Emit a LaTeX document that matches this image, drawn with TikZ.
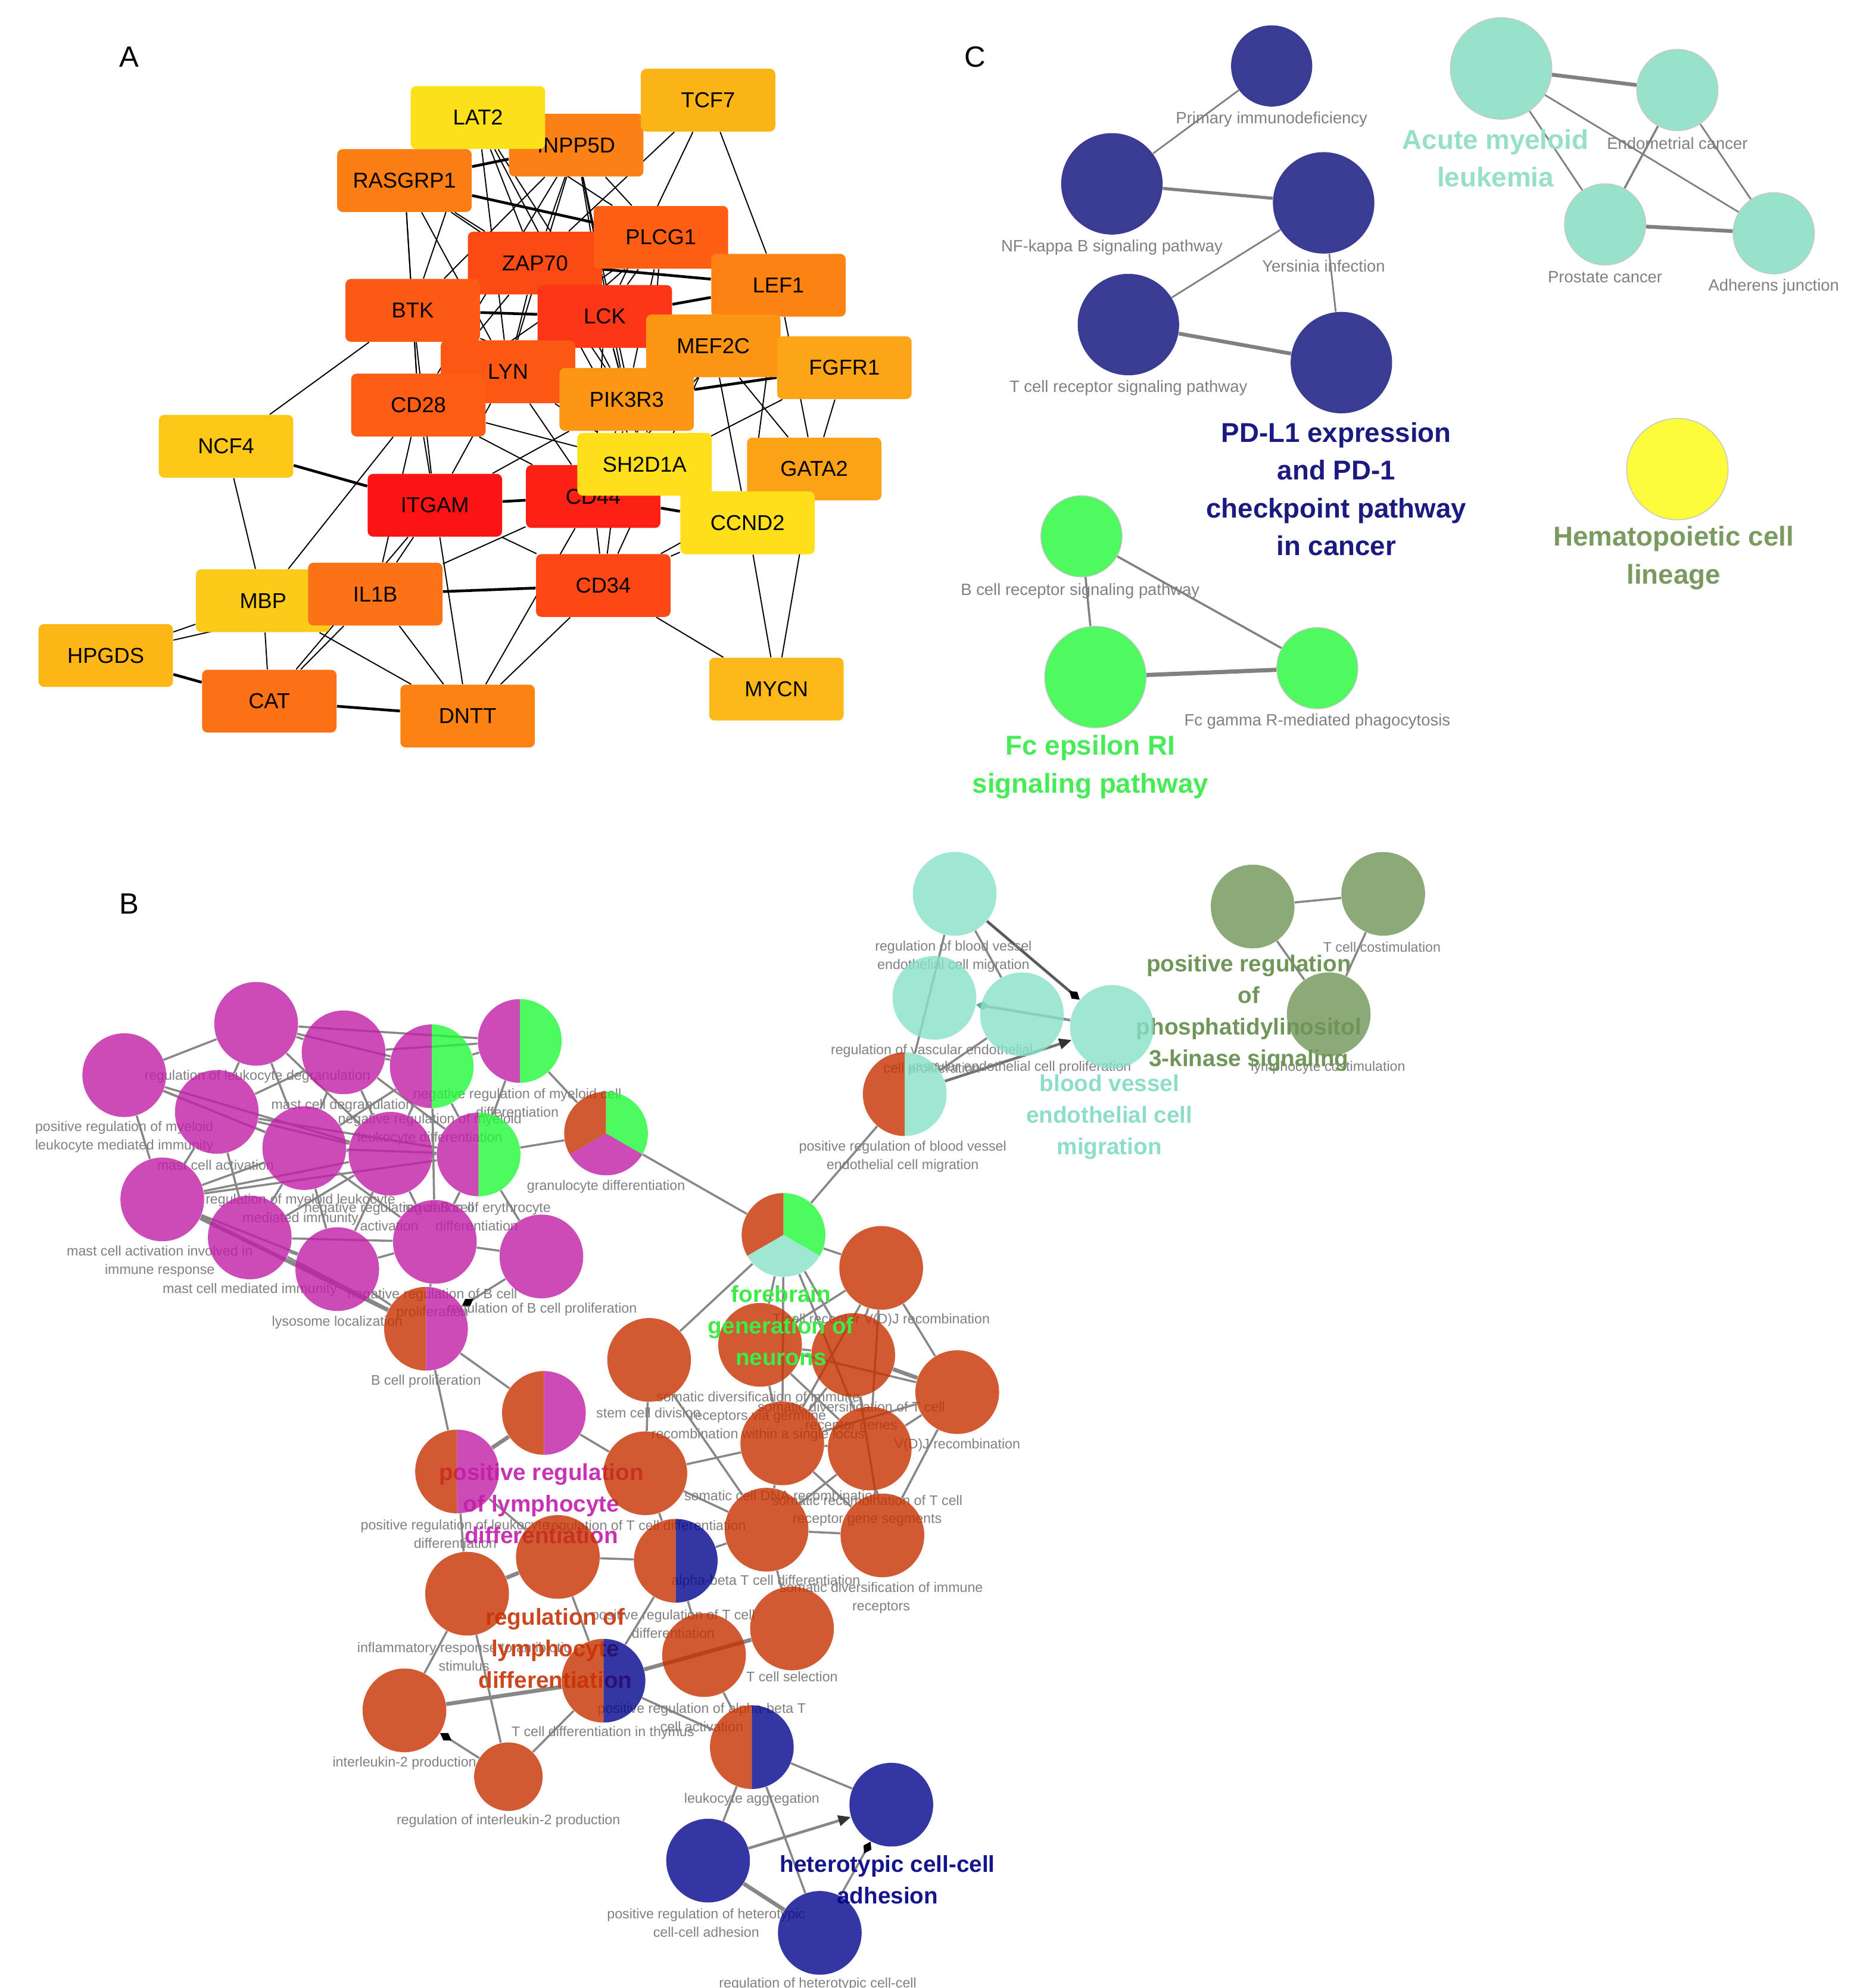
\documentclass[tikz,border=0pt]{standalone}
\usepackage{fontspec}
\setmainfont{Liberation Sans}
\usetikzlibrary{arrows.meta}
\pgfdeclarelayer{edgelayer}
\pgfdeclarelayer{labellayer}
\pgfdeclarelayer{frontlayer}
\pgfsetlayers{edgelayer,labellayer,main,frontlayer}
% panel A colours
\definecolor{cINPP5D}{HTML}{FB8015}
\definecolor{cLAT2}{HTML}{FCE01A}
\definecolor{cTCF7}{HTML}{FBB416}
\definecolor{cRASGRP1}{HTML}{FB7E15}
\definecolor{cZAP70}{HTML}{FC4A14}
\definecolor{cPLCG1}{HTML}{FC5F14}
\definecolor{cLEF1}{HTML}{FC8214}
\definecolor{cBTK}{HTML}{FC5A14}
\definecolor{cLCK}{HTML}{FC3616}
\definecolor{cMEF2C}{HTML}{FC9514}
\definecolor{cFGFR1}{HTML}{FCA516}
\definecolor{cLYN}{HTML}{FC5814}
\definecolor{cCD28}{HTML}{FC5C14}
\definecolor{cPIK3R3}{HTML}{FC9614}
\definecolor{cNCF4}{HTML}{FCC818}
\definecolor{cCD44}{HTML}{FC2014}
\definecolor{cSH2D1A}{HTML}{FDE01A}
\definecolor{cGATA2}{HTML}{FCA216}
\definecolor{cCCND2}{HTML}{FDE01A}
\definecolor{cITGAM}{HTML}{FC1414}
\definecolor{cCD34}{HTML}{FC4814}
\definecolor{cMBP}{HTML}{FCCA18}
\definecolor{cIL1B}{HTML}{FC7216}
\definecolor{cHPGDS}{HTML}{FCB616}
\definecolor{cCAT}{HTML}{FC7016}
\definecolor{cDNTT}{HTML}{FC8214}
\definecolor{cMYCN}{HTML}{FCB818}
% general
\definecolor{labgray}{RGB}{128,128,128}
\definecolor{edgegray}{RGB}{135,135,135}
% panel B node fills (used with opacity 0.8)
\definecolor{Bor}{RGB}{199,49,0}
\definecolor{Bmag}{RGB}{192,30,166}
\definecolor{Bgrn}{RGB}{33,249,55}
\definecolor{Bblu}{RGB}{1,4,140}
\definecolor{Btel}{RGB}{136,224,201}
\definecolor{Bolv}{RGB}{110,149,86}
% panel C node fills
\definecolor{Cnavy}{RGB}{58,60,148}
\definecolor{Cteal}{RGB}{152,226,204}
\definecolor{Cyel}{RGB}{252,252,60}
\definecolor{Cgrn}{RGB}{78,250,96}
% big label colours
\definecolor{Tteal}{RGB}{150,224,200}
\definecolor{Tnavy}{RGB}{26,26,128}
\definecolor{Tolive}{RGB}{122,154,96}
\definecolor{Tgreen}{RGB}{70,235,85}
\definecolor{Btgreen}{RGB}{60,235,70}
\definecolor{Btmag}{RGB}{200,50,180}
\definecolor{Btor}{RGB}{205,70,30}
\definecolor{Btnavy}{RGB}{20,20,140}
\definecolor{Btteal}{RGB}{140,222,200}
\definecolor{Btolive}{RGB}{112,150,90}
\newcommand{\bRad}{0.7026cm}
\newcommand{\sRad}{0.575cm}
\newcommand{\onepie}[3]{\fill[#2, fill opacity=0.8] (#1.center) circle[radius=#3];}
\newcommand{\halfpie}[4]{%
 \fill[#2, fill opacity=0.8] (#1.center) -- ++(90:#4) arc[start angle=90,end angle=270,radius=#4] -- cycle;%
 \fill[#3, fill opacity=0.8] (#1.center) -- ++(-90:#4) arc[start angle=-90,end angle=90,radius=#4] -- cycle;}
\newcommand{\tripie}[5]{%
 \fill[#2, fill opacity=0.8] (#1.center) -- ++(90:#5) arc[start angle=90,end angle=210,radius=#5] -- cycle;%
 \fill[#3, fill opacity=0.8] (#1.center) -- ++(-30:#5) arc[start angle=-30,end angle=90,radius=#5] -- cycle;%
 \fill[#4, fill opacity=0.8] (#1.center) -- ++(210:#5) arc[start angle=210,end angle=330,radius=#5] -- cycle;}
\tikzset{
 gene/.style={rectangle, rounded corners=2.6pt, minimum width=2.257cm, minimum height=1.054cm, inner sep=0pt, font=\fontsize{10.3}{12}\selectfont, text=black},
 aedge/.style={line width=0.55pt, black},
 aedgeT/.style={line width=1.3pt, black},
 cbig/.style={circle, minimum size=1.703cm, inner sep=0pt},
 csmall/.style={circle, minimum size=1.363cm, inner sep=0pt},
 clab/.style={font=\fontsize{7.8}{9.5}\selectfont, text=labgray, align=center, inner sep=0pt},
 cbiglab/.style={font=\fontsize{13}{18.1}\selectfont\bfseries, align=center, inner sep=0pt},
 cedge/.style={line width=0.8pt, labgray},
 cedgeT/.style={line width=1.8pt, labgray},
 bnode/.style={circle, minimum size=1.405cm, inner sep=0pt},
 bsnode/.style={circle, minimum size=1.15cm, inner sep=0pt},
 blab/.style={font=\fontsize{6.6}{8.8}\selectfont, text=labgray, align=center, inner sep=0pt},
 bbiglab/.style={font=\fontsize{11}{15.1}\selectfont\bfseries, align=center, inner sep=0pt},
 bedge/.style={line width=1.0pt, edgegray},
 bedgeT/.style={line width=1.9pt, edgegray},
 dtip/.style={-{Diamond[length=6.5pt,width=4.2pt,color=black]}},
 ttip/.style={-{Triangle[length=6pt,width=5pt,color=black!80]}},
 panel/.style={font=\fontsize{14}{16}\selectfont, inner sep=0pt}
}
\begin{document}
\begin{tikzpicture}[x=0.02129cm, y=-0.02129cm]
\useasboundingbox (0,0) rectangle (1479.6,1568);
\begin{pgfonlayer}{edgelayer}
\fill[white] (0,0) rectangle (1479.6,1568);
\end{pgfonlayer}

% ---------------- panel letters
\node[panel] (labA) at (102,45) {A};
\node[panel] (labC) at (769,45) {C};
\node[panel] (labB) at (102,713) {B};

% ================= PANEL A =================
\node[gene, fill=cINPP5D] (INPP5D) at (454.5,114.5) {INPP5D};
\node[gene, fill=cLAT2] (LAT2) at (377,92.7) {LAT2};
\node[gene, fill=cTCF7] (TCF7) at (558.5,79) {TCF7};
\node[gene, fill=cRASGRP1] (RASGRP1) at (319,142.4) {RASGRP1};
\node[gene, fill=cZAP70] (ZAP70) at (422,207.5) {ZAP70};
\node[gene, fill=cPLCG1] (PLCG1) at (521.3,187.2) {PLCG1};
\node[gene, fill=cLEF1] (LEF1) at (614,225) {LEF1};
\node[gene, fill=cBTK] (BTK) at (325.5,244.8) {BTK};
\node[gene, fill=cLCK] (LCK) at (477,249.6) {LCK};
\node[gene, fill=cMEF2C] (MEF2C) at (562.6,272.8) {MEF2C};
\node[gene, fill=cFGFR1] (FGFR1) at (666,290) {FGFR1};
\node[gene, fill=cLYN] (LYN) at (400.7,293.2) {LYN};
\node[gene, fill=cCD28] (CD28) at (330,319.5) {CD28};
\node[gene, fill=cPIK3R3] (PIK3R3) at (494.3,315) {PIK3R3};
\node[gene, fill=cNCF4] (NCF4) at (178.3,352) {NCF4};
\node[gene, fill=cCD44] (CD44) at (467.9,391.6) {CD44};
\node[gene, fill=cSH2D1A] (SH2D1A) at (508.4,366.2) {SH2D1A};
\node[gene, fill=cGATA2] (GATA2) at (642.2,369.9) {GATA2};
\node[gene, fill=cCCND2] (CCND2) at (589.6,412.4) {CCND2};
\node[gene, fill=cITGAM] (ITGAM) at (343,398.5) {ITGAM};
\node[gene, fill=cCD34] (CD34) at (475.8,461.8) {CD34};
\node[gene, fill=cMBP] (MBP) at (207.5,473.8) {MBP};
\node[gene, fill=cIL1B] (IL1B) at (296,468.6) {IL1B};
\node[gene, fill=cHPGDS] (HPGDS) at (83.4,517) {HPGDS};
\node[gene, fill=cCAT] (CAT) at (212.4,553) {CAT};
\node[gene, fill=cDNTT] (DNTT) at (368.8,564.8) {DNTT};
\node[gene, fill=cMYCN] (MYCN) at (612.4,543.5) {MYCN};

\begin{pgfonlayer}{edgelayer}
\foreach \a/\b in {LAT2/ZAP70, LAT2/LCK, LAT2/LYN, LAT2/PLCG1, LAT2/BTK, LAT2/PIK3R3,
 INPP5D/ZAP70, INPP5D/LCK, INPP5D/LYN, INPP5D/BTK, INPP5D/PIK3R3, INPP5D/CD28, INPP5D/SH2D1A, INPP5D/PLCG1,
 TCF7/LEF1, TCF7/ZAP70, TCF7/LCK,
 RASGRP1/BTK, RASGRP1/ZAP70, RASGRP1/LCK, RASGRP1/CD28, RASGRP1/LYN,
 PLCG1/ZAP70, PLCG1/LCK, PLCG1/LYN, PLCG1/BTK, PLCG1/PIK3R3, PLCG1/CD28, PLCG1/SH2D1A,
 ZAP70/LCK, ZAP70/LYN, ZAP70/CD28, ZAP70/SH2D1A, ZAP70/PIK3R3, ZAP70/BTK,
 LEF1/MEF2C, LEF1/GATA2, LEF1/CCND2, LEF1/CD44,
 BTK/LYN, BTK/ITGAM, BTK/NCF4, BTK/PIK3R3, BTK/CD28,
 LCK/LYN, LCK/CD28, LCK/PIK3R3, LCK/SH2D1A, LCK/CD44, LCK/MEF2C,
 MEF2C/GATA2, MEF2C/CD34, MEF2C/CCND2,
 FGFR1/CD44, FGFR1/GATA2,
 LYN/ITGAM, LYN/CD28, LYN/PIK3R3, LYN/CD44, LYN/SH2D1A,
 CD28/ITGAM, CD28/SH2D1A, CD28/CD44, CD28/MBP, CD28/IL1B,
 PIK3R3/ITGAM, PIK3R3/CD44, PIK3R3/CD34,
 NCF4/MBP, GATA2/MYCN, GATA2/CD34,
 ITGAM/IL1B, ITGAM/DNTT, ITGAM/CD34, ITGAM/CAT,
 CD44/IL1B, CD44/CD34, CD44/DNTT,
 CCND2/CD34, CCND2/MYCN, CD34/MYCN, CD34/DNTT,
 MBP/HPGDS, IL1B/HPGDS, MBP/CAT, IL1B/CAT, MBP/DNTT, IL1B/DNTT}
 \draw[aedge] (\a) -- (\b);
\foreach \a/\b in {RASGRP1/INPP5D, RASGRP1/PLCG1, ZAP70/LEF1, LCK/LEF1, BTK/LCK, PIK3R3/FGFR1,
 NCF4/ITGAM, ITGAM/CD44, CD44/CCND2, IL1B/CD34, CAT/DNTT, HPGDS/CAT}
 \draw[aedgeT] (\a) -- (\b);
\end{pgfonlayer}

% ================= PANEL C =================
\node[csmall, fill=Cnavy] (cPrim) at (1003,52) {};
\node[cbig, fill=Cnavy] (cNF) at (877,145) {};
\node[cbig, fill=Cnavy] (cYer) at (1044,160) {};
\node[cbig, fill=Cnavy] (cTCR) at (890,256) {};
\node[cbig, fill=Cnavy] (cPDL) at (1058,286) {};
\node[cbig, fill=Cteal, draw=gray!45, line width=0.4pt] (cAML) at (1184,54) {};
\node[csmall, fill=Cteal, draw=gray!45, line width=0.4pt] (cEnd) at (1323,71) {};
\node[csmall, fill=Cteal, draw=gray!45, line width=0.4pt] (cPro) at (1266,177) {};
\node[csmall, fill=Cteal, draw=gray!45, line width=0.4pt] (cAdh) at (1399,184) {};
\node[cbig, fill=Cyel, draw=gray!45, line width=0.4pt] (cHem) at (1323,370) {};
\node[csmall, fill=Cgrn, draw=gray!45, line width=0.4pt] (cBCR) at (853,423) {};
\node[cbig, fill=Cgrn, draw=gray!45, line width=0.4pt] (cFcE) at (864,534) {};
\node[csmall, fill=Cgrn, draw=gray!45, line width=0.4pt] (cFcG) at (1039,527) {};

\begin{pgfonlayer}{edgelayer}
\draw[cedge] (cPrim) -- (cNF);
\draw[cedgeT, line width=1.5pt] (cNF) -- (cYer);
\draw[cedge] (cYer) -- (cTCR);
\draw[cedge] (cYer) -- (cPDL);
\draw[cedgeT] (cTCR) -- (cPDL);
\draw[cedgeT] (cAML) -- (cEnd);
\draw[cedge] (cAML) -- (cPro);
\draw[cedge] (cAML) -- (cAdh);
\draw[cedge, line width=1pt] (cEnd) -- (cPro);
\draw[cedge] (cEnd) -- (cAdh);
\draw[cedgeT] (cPro) -- (cAdh);
\draw[cedge, line width=1pt] (cBCR) -- (cFcE);
\draw[cedge, line width=1pt] (cBCR) -- (cFcG);
\draw[cedgeT, line width=2pt] (cFcE) -- (cFcG);
\end{pgfonlayer}

\begin{pgfonlayer}{labellayer}
\node[clab] (lPrim) at (1003,94) {Primary immunodeficiency};
\node[clab] (lNF) at (877,195) {NF-kappa B signaling pathway};
\node[clab] (lYer) at (1044,210) {Yersinia infection};
\node[clab] (lTCR) at (890,306) {T cell receptor signaling pathway};
\node[clab] (lEnd) at (1323,113) {Endometrial cancer};
\node[clab] (lPro) at (1266,218.5) {Prostate cancer};
\node[clab] (lAdh) at (1399,226) {Adherens junction};
\node[clab] (lBCR) at (852,466) {B cell receptor signaling pathway};
\node[clab] (lFcG) at (1039,569) {Fc gamma R-mediated phagocytosis};
\node[cbiglab, text=Tteal] (gAML) at (1179.5,124.75) {Acute myeloid\\leukemia};
\node[cbiglab, text=Tnavy] (gPDL) at (1054,385.75) {PD-L1 expression\\and PD-1\\checkpoint pathway\\in cancer};
\node[cbiglab, text=Tolive] (gHem) at (1320,440) {Hematopoietic cell\\lineage};
\node[cbiglab, text=Tgreen] (gFcE) at (860,605) {Fc epsilon RI\\signaling pathway};
\end{pgfonlayer}

% ================= PANEL B =================
\path
 node[bnode] (m1) at (98,848) {}
 node[bnode] (m2) at (202,807.5) {}
 node[bnode] (m3) at (271,830) {}
 node[bnode] (m4) at (340.5,841) {}
 node[bnode] (m5) at (410,821) {}
 node[bnode] (m6) at (478,894) {}
 node[bnode] (m7) at (171,877) {}
 node[bnode] (m8) at (240,905.5) {}
 node[bnode] (m9) at (308,910) {}
 node[bnode] (m10) at (377.5,910.5) {}
 node[bnode] (m11) at (128,946) {}
 node[bnode] (m12) at (197,976) {}
 node[bnode] (m13) at (266,1001) {}
 node[bnode] (m14) at (343,979.5) {}
 node[bnode] (m15) at (427,991) {}
 node[bnode] (m16) at (336,1048) {}
 node[bnode] (o17) at (618,974) {}
 node[bnode] (o18) at (695,1000) {}
 node[bnode] (o19) at (512,1072.6) {}
 node[bnode] (o20) at (599.5,1060.7) {}
 node[bnode] (o21) at (673,1068.7) {}
 node[bnode] (o22) at (755,1098) {}
 node[bnode] (o23) at (429,1114.4) {}
 node[bnode] (o24) at (360.5,1160.6) {}
 node[bnode] (o25) at (509,1162) {}
 node[bnode] (o26) at (617,1138.4) {}
 node[bnode] (o27) at (686,1142.5) {}
 node[bnode] (o28) at (604.6,1206.5) {}
 node[bnode] (o29) at (696,1211) {}
 node[bnode] (o30) at (533,1231) {}
 node[bnode] (o31) at (440,1228) {}
 node[bnode] (o32) at (368.4,1257) {}
 node[bnode] (o33) at (624.7,1284.4) {}
 node[bnode] (o34) at (555.3,1305.4) {}
 node[bnode] (o35) at (476,1325.6) {}
 node[bnode] (o36) at (319,1349) {}
 node[bsnode] (o37) at (401,1401.3) {}
 node[bnode] (o38) at (593,1378) {}
 node[bnode] (b39) at (703,1423.4) {}
 node[bnode] (b40) at (558.5,1467.5) {}
 node[bnode] (b41) at (646.6,1524.5) {}
 node[bnode] (t42) at (753,705) {}
 node[bnode] (t43) at (737,787) {}
 node[bnode] (t44) at (806,800) {}
 node[bnode] (t45) at (877,810) {}
 node[bnode] (t46) at (713.6,863) {}
 node[bnode] (g47) at (988,715) {}
 node[bnode] (g48) at (1091,705) {}
 node[bnode] (g49) at (1048,800) {};

\begin{pgfonlayer}{edgelayer}
\foreach \a/\b in {m1/m2, m1/m7, m1/m11, m1/m8, m1/m9, m2/m3, m2/m5, m2/m4, m2/m7, m2/m8, m2/m9,
 m3/m4, m3/m5, m3/m7, m3/m8, m3/m9, m3/m10, m4/m5, m4/m8, m4/m9, m4/m10, m4/m14, m5/m6, m5/m10,
 m6/m10, m6/o17, m7/m8, m7/m9, m7/m11, m7/m12, m7/m10, m8/m9, m8/m10, m8/m11, m8/m12, m8/m13, m8/m14,
 m9/m10, m9/m11, m9/m12, m9/m13, m9/m14, m10/m14, m10/m15, m10/m11, m11/m12, m11/m13, m12/m13,
 m12/m14, m12/m16, m13/m14, m13/m16, m14/m15, m14/m16, m16/o23, m16/o24,
 o23/o25, o24/o31, o24/o32, o17/o18, o17/o19, o17/o20, o17/o21, o17/o26, o17/o27, o17/t46,
 o18/o20, o18/o21, o18/o22, o18/o26, o18/o27, o19/o25, o19/o28, o20/o21, o20/o22, o20/o26, o20/o27,
 o21/o26, o21/o27, o21/o29, o22/o26, o22/o27, o22/o29, o26/o27, o26/o28, o26/o29, o27/o28,
 o25/o26, o25/o28, o25/o30, o28/o29, o28/o30, o28/o33, o30/o31, o30/o35, o30/o34, o31/o35,
 o32/o36, o32/o37, o34/o38, o35/o37, o35/o38, o38/b39, o38/b40, o38/b41,
 t42/t46, t42/t44, t46/t44, g47/g48, g47/g49, g48/g49}
 \draw[bedge] (\a) -- (\b);
\foreach \a/\b in {m11/m16, o23/o24, o21/o22, o27/o29, o31/o32, o35/o33, o35/o36, b40/b41}
 \draw[bedgeT] (\a) -- (\b);
\draw[bedge, dtip] (m15) -- (m16);
\draw[bedge, dtip] (o37) -- (o36);
\draw[bedgeT, line width=1.3pt, ttip] (b40) -- (b39);
\draw[bedge, dtip] (b41) -- (b39);
\draw[bedge, line width=1.3pt, draw=black!65, dtip] (t42) -- (t45);
\draw[bedge, line width=1.3pt, draw=gray!90, -{Diamond[length=6.5pt,width=4.2pt,color={rgb,255:red,90;green,168;blue,148}]}] (t45) -- (t43);
\draw[bedge, line width=1.3pt, draw=black!55, ttip] (t46) -- (t45);
\end{pgfonlayer}

% grey labels of panel B (beneath the translucent nodes)
\begin{pgfonlayer}{labellayer}
\node[blab] (l1) at (98,896.75) {positive regulation of myeloid\\leukocyte mediated immunity};
\node[blab] (l2) at (203,849) {regulation of leukocyte degranulation};
\node[blab] (l3) at (270,872) {mast cell degranulation};
\node[blab] (l4) at (339,890.5) {negative regulation of myeloid\\leukocyte differentiation};
\node[blab] (l5) at (408,870) {negative regulation of myeloid cell\\differentiation};
\node[blab] (l6) at (478,936) {granulocyte differentiation};
\node[blab] (l7) at (170,919) {mast cell activation};
\node[blab] (l8) at (237,954.25) {regulation of myeloid leukocyte\\mediated immunity};
\node[blab] (l9) at (307,959.5) {negative regulation of B cell\\activation};
\node[blab] (l10) at (376,959.5) {regulation of erythrocyte\\differentiation};
\node[blab] (l11) at (126,994.75) {mast cell activation involved in\\immune response};
\node[blab] (l12) at (197,1017) {mast cell mediated immunity};
\node[blab] (l13) at (266,1043) {lysosome localization};
\node[blab] (l14) at (341,1028.5) {negative regulation of B cell\\proliferation};
\node[blab] (l15) at (427.5,1032.5) {regulation of B cell proliferation};
\node[blab] (l16) at (336,1089.5) {B cell proliferation};
\node[blab] (l18) at (695,1041.4) {T cell receptor V(D)J recombination};
\node[blab] (l19) at (511.5,1114.4) {stem cell division};
\node[blab] (l20) at (598,1117.3) {somatic diversification of immune\\receptors via germline\\recombination within a single locus};
\node[blab] (l21) at (671.4,1117.75) {somatic diversification of T cell\\receptor genes};
\node[blab] (l22) at (755,1139.7) {V(D)J recombination};
\node[blab] (l24) at (359,1210) {positive regulation of leukocyte\\differentiation};
\node[blab] (l25) at (509.7,1204) {regulation of T cell differentiation};
\node[blab] (l26) at (617,1179.6) {somatic cell DNA recombination};
\node[blab] (l27) at (684,1191.5) {somatic recombination of T cell\\receptor gene segments};
\node[blab] (l28) at (604,1247.5) {alpha-beta T cell differentiation};
\node[blab] (l29) at (695,1260.2) {somatic diversification of immune\\receptors};
\node[blab] (l30) at (531,1281) {positive regulation of T cell\\differentiation};
\node[blab] (l32) at (366,1306.6) {inflammatory response to antibiotic\\stimulus};
\node[blab] (l33) at (624.7,1322.6) {T cell selection};
\node[blab] (l34) at (553.5,1354.75) {positive regulation of alpha-beta T\\cell activation};
\node[blab] (l35) at (475.5,1366.8) {T cell differentiation in thymus};
\node[blab] (l36) at (319,1390.6) {interleukin-2 production};
\node[blab] (l37) at (401,1436.2) {regulation of interleukin-2 production};
\node[blab] (l38) at (593,1419.4) {leukocyte aggregation};
\node[blab] (l40) at (557,1516.7) {positive regulation of heterotypic\\cell-cell adhesion};
\node[blab] (l41) at (645,1565) {regulation of heterotypic cell-cell};
\node[blab] (l42) at (752,754.6) {regulation of blood vessel\\endothelial cell migration};
\node[blab] (l43) at (735,836.3) {regulation of vascular endothelial\\cell proliferation};
\node[blab] (l44) at (804.4,841.8) {vascular endothelial cell proliferation};
\node[blab] (l46) at (712,912.2) {positive regulation of blood vessel\\endothelial cell migration};
\node[blab] (l48) at (1090,747) {T cell costimulation};
\node[blab] (l49) at (1047.5,842) {lymphocyte costimulation};
% group labels under the nodes
\node[bbiglab, text=Btmag] (gPRL) at (427,1186) {positive regulation\\of lymphocyte\\differentiation};
\node[bbiglab, text=Btor] (gRLD) at (438,1300) {regulation of\\lymphocyte\\differentiation};
\node[bbiglab, text=Btnavy] (gHCA) at (700,1482.6) {heterotypic cell-cell\\adhesion};
\node[bbiglab, text=Btteal] (gBVE) at (875,881) {blood vessel\\endothelial cell\\migration};
\node[bbiglab, text=Btolive] (gPI3) at (985,799) {positive regulation\\of\\phosphatidylinositol\\3-kinase signaling};
\end{pgfonlayer}

% translucent pie nodes
\foreach \n in {m1,m2,m3,m7,m8,m9,m11,m12,m13,m14,m15} {\onepie{\n}{Bmag}{\bRad}}
\halfpie{m4}{Bmag}{Bgrn}{\bRad}
\halfpie{m5}{Bmag}{Bgrn}{\bRad}
\halfpie{m10}{Bmag}{Bgrn}{\bRad}
\tripie{m6}{Bor}{Bgrn}{Bmag}{\bRad}
\halfpie{m16}{Bor}{Bmag}{\bRad}
\tripie{o17}{Bor}{Bgrn}{Btel}{\bRad}
\foreach \n in {o18,o19,o20,o21,o22,o25,o26,o27,o28,o29,o31,o32,o33,o34,o36} {\onepie{\n}{Bor}{\bRad}}
\onepie{o37}{Bor}{\sRad}
\halfpie{o23}{Bor}{Bmag}{\bRad}
\halfpie{o24}{Bor}{Bmag}{\bRad}
\halfpie{o30}{Bor}{Bblu}{\bRad}
\halfpie{o35}{Bor}{Bblu}{\bRad}
\halfpie{o38}{Bor}{Bblu}{\bRad}
\foreach \n in {b39,b40,b41} {\onepie{\n}{Bblu}{\bRad}}
\foreach \n in {t42,t43,t44,t45} {\onepie{\n}{Btel}{\bRad}}
\halfpie{t46}{Bor}{Btel}{\bRad}
\foreach \n in {g47,g48,g49} {\onepie{\n}{Bolv}{\bRad}}

\begin{pgfonlayer}{frontlayer}
\node[bbiglab, text=Btgreen] (gFGN) at (616,1045.5) {forebrain\\generation of\\neurons};
\end{pgfonlayer}
\end{tikzpicture}
\end{document}
